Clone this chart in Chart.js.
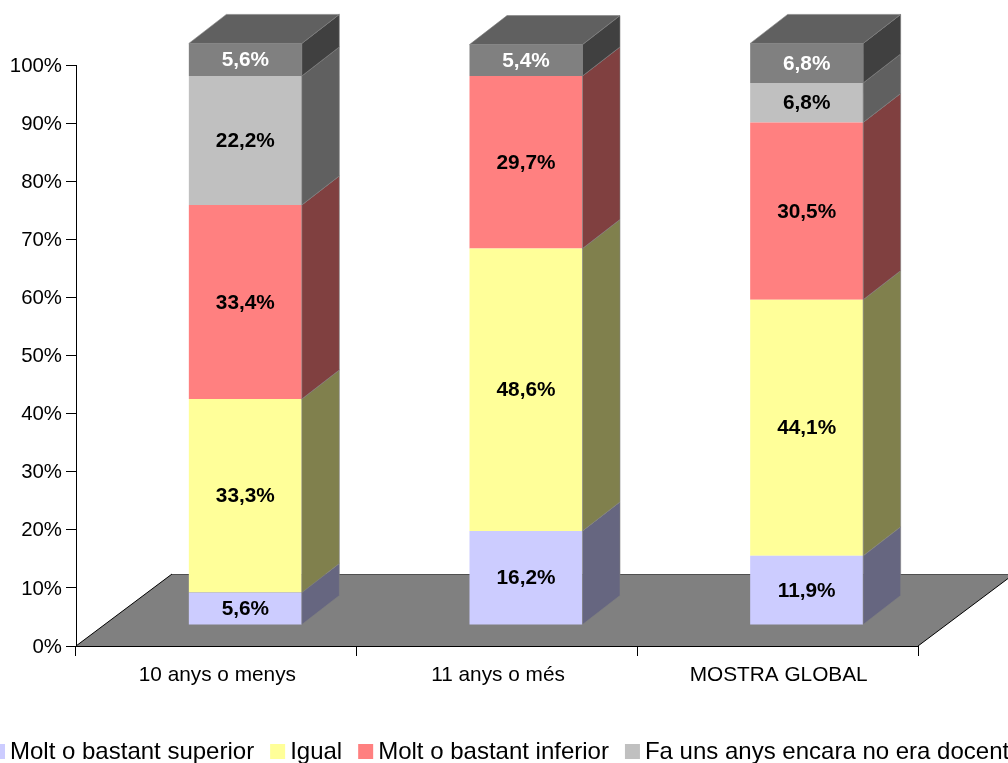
<!DOCTYPE html>
<html>
<head>
<meta charset="utf-8">
<style>
   html, body { margin: 0; padding: 0; background: #fff; overflow: hidden; }
   canvas { display: block; }
</style>
<script src="https://cdn.jsdelivr.net/npm/chart.js@4"></script>
</head>
<body>
<canvas id="graph" width="1008" height="763"></canvas>
<script>
const categories = ["10 anys o menys", "11 anys o més", "MOSTRA GLOBAL"];
const seriesNames = ["Molt o bastant superior", "Igual", "Molt o bastant inferior", "Fa uns anys encara no era docent", ""];
const superior = [5.6, 16.2, 11.9];
const igual = [33.3, 48.6, 44.1];
const inferior = [33.4, 29.7, 30.5];
const noDocent = [22.2, null, 6.8];
const altres = [5.6, 5.4, 6.8];
const seriesValues = [superior, igual, inferior, noDocent, altres];
const frontColors = ["#ccccff", "#ffff99", "#ff8080", "#c0c0c0", "#808080"];
const sideColors = ["#666680", "#80804d", "#804040", "#606060", "#404040"];
const topColor = "#606060";
const labelColors = ["#000", "#000", "#000", "#000", "#fff"];

const font = "Liberation Sans, Arial, sans-serif";
const shiftX = 29, shiftY = -21;  // bars stand inside the floor
const depthX = 37.5, depthY = -29;
const floorX = 96, floorY = -72;

function poly(ctx, pts, fill, stroke)
{
   ctx.beginPath();
   pts.forEach((p, i) => i ? ctx.lineTo(p[0], p[1]) : ctx.moveTo(p[0], p[1]));
   ctx.closePath();
   ctx.fillStyle = fill;
   ctx.fill();
   if (stroke)
   {
      ctx.strokeStyle = stroke;
      ctx.lineWidth = 0.6;
      ctx.stroke();
   }
}

const box3d =
{
   id: "box3d",
   beforeDatasetsDraw(chart)
   {
      const ctx = chart.ctx;
      const a = chart.chartArea;
      // floor
      poly(ctx, [[a.left, a.bottom], [a.right, a.bottom], [a.right + floorX, a.bottom + floorY], [a.left + floorX, a.bottom + floorY]], "#808080");
      ctx.lineWidth = 1;
      ctx.strokeStyle = "#505050";
      ctx.beginPath();
      ctx.moveTo(a.left + floorX, a.bottom + floorY + 0.5);
      ctx.lineTo(a.right + floorX, a.bottom + floorY + 0.5);
      ctx.stroke();
      ctx.strokeStyle = "#000";
      ctx.beginPath();
      ctx.moveTo(a.left + floorX, a.bottom + floorY);
      ctx.lineTo(a.left, a.bottom);
      ctx.moveTo(a.right + floorX, a.bottom + floorY);
      ctx.lineTo(a.right, a.bottom);
      ctx.moveTo(a.left, a.bottom + 0.5);
      ctx.lineTo(a.right, a.bottom + 0.5);
      ctx.stroke();
      ctx.save();
      ctx.translate(shiftX, shiftY);
   },
   afterDatasetsDraw(chart)
   {
      const ctx = chart.ctx;
      chart.data.datasets.forEach((ds, d) =>
      {
         chart.getDatasetMeta(d).data.forEach((bar, i) =>
         {
            if (seriesValues[d][i] == null) return;
            const p = bar.getProps(["x", "y", "base", "width"], true);
            const r = p.x + p.width / 2;
            poly(ctx, [[r, p.base], [r + depthX, p.base + depthY], [r + depthX, p.y + depthY], [r, p.y]], sideColors[d], "#808080");
            if (d === seriesValues.length - 1)
            {
               const l = p.x - p.width / 2;
               poly(ctx, [[l, p.y], [l + depthX, p.y + depthY], [r + depthX, p.y + depthY], [r, p.y]], topColor, "#808080");
            }
         });
      });
      // value labels
      ctx.font = "bold 20.8px " + font;
      ctx.textAlign = "center";
      ctx.textBaseline = "middle";
      chart.data.datasets.forEach((ds, d) =>
      {
         chart.getDatasetMeta(d).data.forEach((bar, i) =>
         {
            const v = seriesValues[d][i];
            if (v == null) return;
            const p = bar.getProps(["x", "y", "base"], true);
            ctx.fillStyle = labelColors[d];
            ctx.fillText(v.toFixed(1).replace(".", ",") + "%", p.x, (p.y + p.base) / 2 + 1);
         });
      });
      ctx.restore();

      // legend, runs off both edges like the original
      ctx.font = "24px " + font;
      ctx.textAlign = "left";
      ctx.textBaseline = "alphabetic";
      let x = -10;
      seriesNames.forEach((name, d) =>
      {
         if (!name) return;
         ctx.fillStyle = frontColors[d];
         ctx.fillRect(x, 744, 15, 15);
         ctx.fillStyle = "#000";
         ctx.fillText(name, x + 20, 759);
         x += 20 + ctx.measureText(name).width + 16;
      });
   }
};

new Chart(document.getElementById("graph").getContext("2d"),
{
   type: "bar",
   data:
   {
      labels: categories,
      datasets: seriesValues.map((values, d) =>
      ({
         label: seriesNames[d],
         data: values,
         backgroundColor: frontColors[d],
         borderWidth: 0,
         clip: false,
         barPercentage: 1,
         categoryPercentage: 0.4026
      }))
   },
   options:
   {
      responsive: false,
      animation: false,
      layout: { padding: { top: 65, right: 90, bottom: 0, left: 0 } },
      scales:
      {
         x:
         {
            stacked: true,
            afterFit: s => { s.height = 117; },
            grid: { offset: true, drawOnChartArea: false, tickLength: 10, color: "#000" },
            border: { color: "#000" },
            ticks: { color: "#000", font: { family: font, size: 20.8 }, padding: 7, labelOffset: 1, maxRotation: 0 }
         },
         y:
         {
            stacked: true,
            min: 0,
            max: 100,
            afterFit: s => { s.width = 76; },
            grid: { drawOnChartArea: false, tickLength: 10, color: "#000" },
            border: { color: "#000" },
            ticks:
            {
               stepSize: 10,
               color: "#000",
               font: { family: font, size: 20.4 },
               padding: 4,
               labelOffset: 1,
               callback: v => v + "%"
            }
         }
      },
      plugins:
      {
         legend: { display: false },
         tooltip: { enabled: false }
      }
   },
   plugins: [box3d]
});
</script>
</body>
</html>
